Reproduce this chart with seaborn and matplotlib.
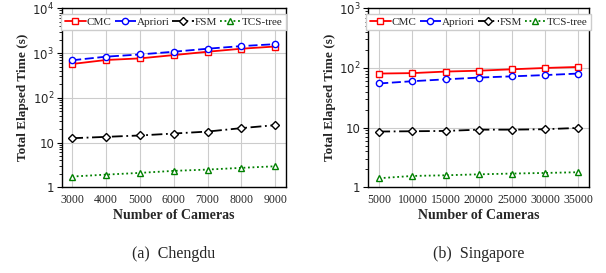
import numpy as np
import pandas as pd
import matplotlib
matplotlib.use("Agg")
import matplotlib.pyplot as plt
from matplotlib.ticker import FixedLocator, FixedFormatter, LogLocator, NullFormatter
import seaborn as sns

sns.set_style("whitegrid")

# data
methods = ["CMC", "Apriori", "FSM", "TCS-tree"]

chengdu_cams = [3000, 4000, 5000, 6000, 7000, 8000, 9000]
chengdu_cmc = [570, 700, 760, 900, 1070, 1250, 1400]
chengdu_apriori = [690, 830, 930, 1070, 1250, 1430, 1580]
chengdu_fsm = [12.5, 13.4, 14.4, 15.9, 17.6, 21, 24.5]
chengdu_tcs = [1.74, 1.92, 2.1, 2.33, 2.49, 2.72, 2.95]

sing_cams = [5000, 10000, 15000, 20000, 25000, 30000, 35000]
sing_cmc = [80.6, 82, 87, 90, 95, 100, 104]
sing_apriori = [55, 60, 64.5, 69, 72.4, 76, 80.6]
sing_fsm = [8.6, 8.7, 8.8, 9.25, 9.25, 9.4, 9.9]
sing_tcs = [1.42, 1.55, 1.59, 1.65, 1.70, 1.74, 1.79]

styles = {
    "CMC": dict(color="red", marker="s", ls="-", ms=4.5),
    "Apriori": dict(color="blue", marker="o", ls=(0, (5, 2)), ms=4.5),
    "FSM": dict(color="black", marker="D", ls=(0, (6, 2, 1, 2)), ms=4),
    "TCS-tree": dict(color="green", marker="^", ls=(0, (1, 1.5)), ms=5),
}


def make_df(cams, series):
    rows = []
    for m, vals in zip(methods, series):
        for c, v in zip(cams, vals):
            rows.append({"cameras": c, "time": v, "method": m})
    return pd.DataFrame(rows)


df_a = make_df(chengdu_cams, [chengdu_cmc, chengdu_apriori, chengdu_fsm, chengdu_tcs])
df_b = make_df(sing_cams, [sing_cmc, sing_apriori, sing_fsm, sing_tcs])

serif = "Liberation Serif"

fig = plt.figure(figsize=(6.06, 2.73), dpi=100)
ax_a = fig.add_axes([61.7 / 606, 1 - 187.3 / 273, 224 / 606, 179 / 273])
ax_b = fig.add_axes([368.3 / 606, 1 - 187.3 / 273, 221 / 606, 179 / 273])


def draw(ax, df, cams, xlim, ytop, ticklabels, caption):
    for m in methods:
        st = styles[m]
        sub = df[df.method == m]
        sns.lineplot(data=sub, x="cameras", y="time", ax=ax, color=st["color"],
                     marker=st["marker"], markersize=st["ms"],
                     markerfacecolor="white", markeredgecolor=st["color"],
                     markeredgewidth=1.0, linewidth=1.3, linestyle=st["ls"],
                     label=m, legend=False)
    ax.set_yscale("log")
    ax.set_ylim(1, ytop)
    ax.set_xlim(*xlim)
    ticks = [10 ** i for i in range(len(ticklabels))]
    ax.yaxis.set_major_locator(FixedLocator(ticks))
    ax.yaxis.set_major_formatter(FixedFormatter(ticklabels))
    ax.yaxis.set_minor_locator(LogLocator(base=10, subs=np.arange(2, 10)))
    ax.yaxis.set_minor_formatter(NullFormatter())
    ax.set_xticks(cams)
    ax.set_xticklabels([str(c) for c in cams], fontfamily=serif, fontsize=8.5)
    for t in ax.get_yticklabels():
        t.set_fontfamily("DejaVu Sans")
        t.set_fontsize(8.5)
    ax.tick_params(axis="y", which="major", left=True, length=3.5, width=0.8, pad=2, color="black")
    ax.tick_params(axis="y", which="minor", left=True, length=2, width=0.6, color="black")
    ax.tick_params(axis="x", length=0, pad=5)
    ax.grid(True, which="major", color="#cccccc", linewidth=0.8)
    ax.grid(False, which="minor")
    for s in ax.spines.values():
        s.set_color("black")
        s.set_linewidth(1.0)
    ax.set_xlabel("Number of Cameras", fontfamily=serif, fontweight="bold", fontsize=10, labelpad=2)
    ax.set_ylabel("Total Elapsed Time (s)", fontfamily=serif, fontweight="bold", fontsize=9.5, labelpad=2)
    ax.legend(loc="upper center", bbox_to_anchor=(0.5, 0.975), ncol=4, frameon=True,
              prop={"family": serif, "size": 8}, handlelength=1.9, handletextpad=0.1,
              columnspacing=0.25, borderpad=0.3, borderaxespad=0.1, fancybox=False,
              edgecolor="#cccccc", framealpha=1)
    ax.text(0.5, -0.33, caption, transform=ax.transAxes, ha="center", va="top",
            fontfamily=serif, fontsize=11.5)


draw(ax_a, df_a, chengdu_cams, (2690, 9310), 1e4,
     ["1", "10", r"$10^2$", r"$10^3$", r"$10^4$"], "(a)  Chengdu")
draw(ax_b, df_b, sing_cams, (3350, 36650), 1e3,
     ["1", "10", r"$10^2$", r"$10^3$"], "(b)  Singapore")

fig.savefig("out.png", dpi=100)
